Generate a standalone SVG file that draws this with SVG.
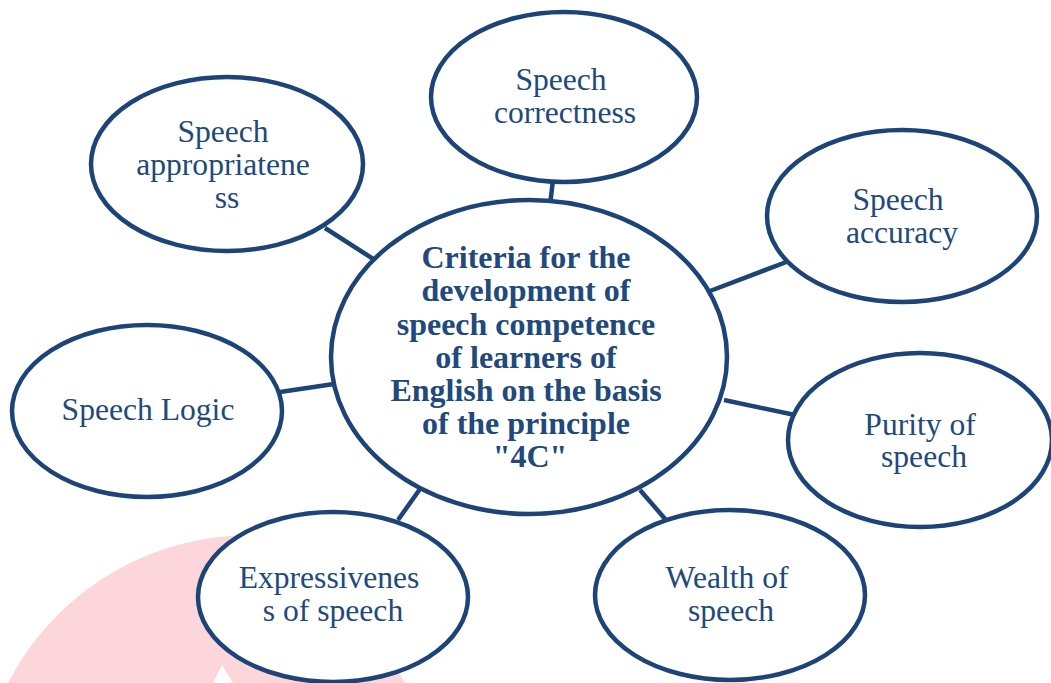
<svg xmlns="http://www.w3.org/2000/svg" width="1051" height="683" viewBox="0 0 1051 683">
  <style>
    .bubble { fill: #ffffff; stroke: #1d4476; stroke-width: 4.5; }
    .link { stroke: #1d4476; stroke-width: 4.5; fill: none; }
    .label { font-family: 'Liberation Serif', 'Times New Roman', serif; font-size: 31.6px; fill: #21497c; text-anchor: middle; }
    .title { font-family: 'Liberation Serif', 'Times New Roman', serif; font-size: 32px; font-weight: bold; fill: #21497c; text-anchor: middle; }
  </style>

  <rect width="1051" height="683" fill="#ffffff"/>

  <!-- faint background emblem -->
  <g id="emblem">
    <path d="M 8 683 A 272 272 0 0 1 300 540 L 330 560 L 405 683 Z" fill="#fcd6db"/>
    <path d="M 213 683 L 222 665 L 233 683 Z" fill="#ffffff"/>
  </g>

  <!-- spokes from the hub to each criterion -->
  <g id="connectors">
    <line class="link" x1="325" y1="228" x2="378" y2="262"/>
    <line class="link" x1="553" y1="180" x2="550" y2="205"/>
    <line class="link" x1="789" y1="261" x2="710" y2="291"/>
    <line class="link" x1="280" y1="392" x2="334" y2="384"/>
    <line class="link" x1="724" y1="400" x2="795" y2="415"/>
    <line class="link" x1="640" y1="490" x2="666" y2="520"/>
    <line class="link" x1="420" y1="489" x2="398" y2="520"/>
  </g>

  <g id="hub">
    <ellipse class="bubble" cx="529" cy="357" rx="198" ry="157"/>
    <text class="title">
      <tspan x="530" y="268">Criteria for the</tspan>
      <tspan x="530" y="301">development of</tspan>
      <tspan x="530" y="335">speech competence</tspan>
      <tspan x="530" y="368">of learners of</tspan>
      <tspan x="530" y="401">English on the basis</tspan>
      <tspan x="530" y="434">of the principle</tspan>
      <tspan x="530" y="467">"4C"</tspan>
    </text>
  </g>

  <g id="correctness">
    <ellipse class="bubble" cx="564" cy="97" rx="133" ry="85"/>
    <text class="label">
      <tspan x="565" y="90">Speech</tspan>
      <tspan x="565" y="123">correctness</tspan>
    </text>
  </g>

  <g id="appropriateness">
    <ellipse class="bubble" cx="227" cy="164" rx="136" ry="87"/>
    <text class="label">
      <tspan x="227" y="142">Speech</tspan>
      <tspan x="227" y="175">appropriatene</tspan>
      <tspan x="227" y="208">ss</tspan>
    </text>
  </g>

  <g id="accuracy">
    <ellipse class="bubble" cx="902" cy="216" rx="135" ry="86"/>
    <text class="label">
      <tspan x="902" y="210">Speech</tspan>
      <tspan x="902" y="243">accuracy</tspan>
    </text>
  </g>

  <g id="logic">
    <ellipse class="bubble" cx="147" cy="411" rx="135" ry="86"/>
    <text class="label">
      <tspan x="148" y="420">Speech Logic</tspan>
    </text>
  </g>

  <g id="purity">
    <ellipse class="bubble" cx="920" cy="440" rx="132" ry="87"/>
    <text class="label">
      <tspan x="924" y="435">Purity of</tspan>
      <tspan x="924" y="467">speech</tspan>
    </text>
  </g>

  <g id="wealth">
    <ellipse class="bubble" cx="730" cy="595" rx="135" ry="85"/>
    <text class="label">
      <tspan x="731" y="588">Wealth of</tspan>
      <tspan x="731" y="621">speech</tspan>
    </text>
  </g>

  <g id="expressiveness">
    <ellipse class="bubble" cx="333" cy="597" rx="135" ry="85"/>
    <text class="label">
      <tspan x="333" y="588">Expressivenes</tspan>
      <tspan x="333" y="621">s of speech</tspan>
    </text>
  </g>
</svg>
